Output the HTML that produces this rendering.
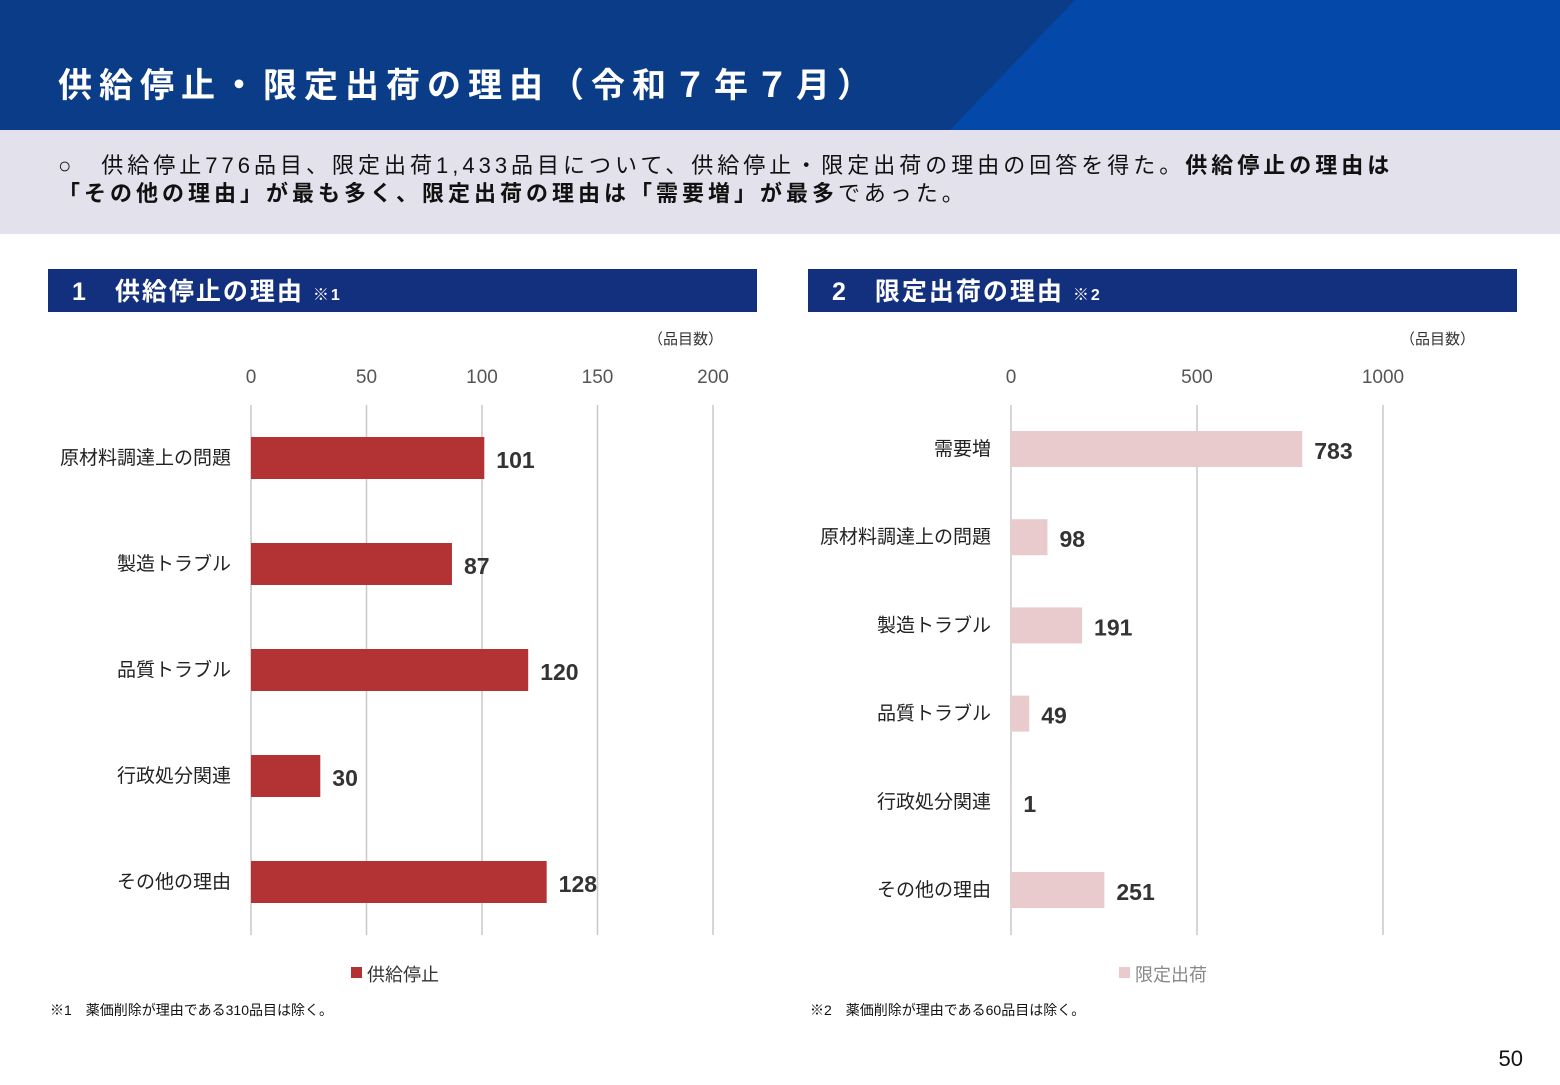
<!DOCTYPE html>
<html><head><meta charset="utf-8">
<style>
body{margin:0;width:1560px;height:1080px;overflow:hidden;background:#fff;font-family:"Liberation Sans","Noto Sans CJK JP",sans-serif;}
svg text{font-family:"Liberation Sans","Noto Sans CJK JP",sans-serif;}
</style></head>
<body>
<svg width="1560" height="1080">
<rect x="0" y="0" width="1560" height="130" fill="#0b3c88"/>
<polygon points="1075,0 1560,0 1560,130 950,130" fill="#0448aa"/>
<text x="58" y="97" font-size="34" font-weight="bold" fill="#fff" letter-spacing="7">供給停止・限定出荷の理由（令和７年７月）</text>
<rect x="0" y="130" width="1560" height="104" fill="#e3e2ec"/>
<text x="58" y="173" font-size="22" fill="#111" letter-spacing="4">○　供給停止776品目、限定出荷1,433品目について、供給停止・限定出荷の理由の回答を得た。<tspan font-weight="bold">供給停止の理由は</tspan></text>
<text x="58" y="201" font-size="22" fill="#111" letter-spacing="4"><tspan font-weight="bold">「その他の理由」が最も多く、限定出荷の理由は「需要増」が最多</tspan>であった。</text>

<rect x="48" y="269" width="709" height="43" fill="#13307f"/>
<text x="72" y="300" font-size="25" font-weight="bold" fill="#fff" letter-spacing="2">1　供給停止の理由 <tspan font-size="16">※1</tspan></text>
<rect x="808" y="269" width="709" height="43" fill="#13307f"/>
<text x="832" y="300" font-size="25" font-weight="bold" fill="#fff" letter-spacing="2">2　限定出荷の理由 <tspan font-size="16">※2</tspan></text>

<text x="723" y="344" font-size="15" fill="#333" text-anchor="end">（品目数）</text>
<text x="1475" y="344" font-size="15" fill="#333" text-anchor="end">（品目数）</text>

<g id="c1"></g><g id="c2"></g>

<rect x="351" y="967" width="11" height="11" fill="#b33335"/>
<text x="367" y="981" font-size="18" fill="#333">供給停止</text>
<rect x="1119" y="967" width="11" height="11" fill="#eacbcd"/>
<text x="1135" y="981" font-size="18" fill="#888">限定出荷</text>
<text x="50" y="1015" font-size="14" fill="#111">※1　薬価削除が理由である310品目は除く。</text>
<text x="810" y="1015" font-size="14" fill="#111">※2　薬価削除が理由である60品目は除く。</text>
<text x="1523" y="1066" font-size="22" fill="#111" text-anchor="end">50</text>
</svg>
<script>
const cats1 = ["原材料調達上の問題","製造トラブル","品質トラブル","行政処分関連","その他の理由"];
const vals1 = [101,87,120,30,128];
const ticks1 = [0,50,100,150,200];
const cats2 = ["需要増","原材料調達上の問題","製造トラブル","品質トラブル","行政処分関連","その他の理由"];
const vals2 = [783,98,191,49,1,251];
const ticks2 = [0,500,1000];
const NS="http://www.w3.org/2000/svg";
function mk(g,tag,at,txt){const e=document.createElementNS(NS,tag);for(const k in at)e.setAttribute(k,at[k]);if(txt!==undefined)e.textContent=txt;g.appendChild(e);return e;}
function draw(gid,cats,vals,ticks,x0,pxPer,y0,step,bh,color,tickY,pfx){
  const g=document.getElementById(gid);
  const sx=v=>x0+v*pxPer;
  ticks.forEach(t=>{
    const l=mk(g,'line',{x1:sx(t),x2:sx(t),y1:405,y2:935,stroke:'#c8c8c8','stroke-width':1.5});
    
    
    const tx=mk(g,'text',{x:sx(t),y:tickY,'font-size':19,fill:'#555','text-anchor':'middle'},t);
    
    
  });
  cats.forEach((c,i)=>{
    const cy=y0+i*step;
    const r=mk(g,'rect',{x:sx(0),y:cy-bh/2,width:vals[i]*pxPer,height:bh,fill:color});
    
    
    const lb=mk(g,'text',{x:x0-20,y:cy+6,'font-size':19,fill:'#222','text-anchor':'end'},c);
    
    
    const v=mk(g,'text',{x:sx(vals[i])+12,y:cy+10,'font-size':23,'font-weight':'bold',fill:'#333'},vals[i]);
    
    
  });
}
draw('c1',cats1,vals1,ticks1,251,2.31,458,106,42,'#b33335',383,'chart1');
draw('c2',cats2,vals2,ticks2,1011,0.372,449,88.2,36,'#eacbcd',383,'chart2');
</script>
</body></html>
